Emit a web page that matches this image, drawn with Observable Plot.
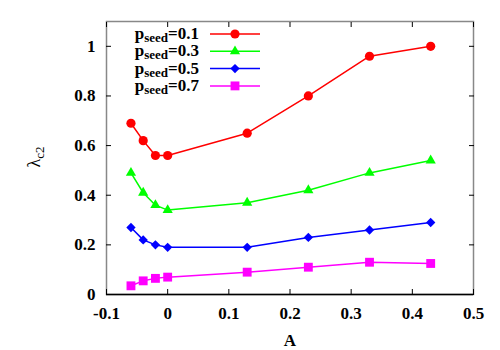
<!DOCTYPE html>
<html><head><meta charset="utf-8">
<script src="https://cdn.jsdelivr.net/npm/d3@7"></script>
<script src="https://cdn.jsdelivr.net/npm/@observablehq/plot@0.6"></script>
<style>body{margin:0;background:#fff}</style>
</head><body><div id="chart"></div>
<script>
const A = [-0.06, -0.04, -0.02, 0, 0.13, 0.23, 0.33, 0.43];
const seeds = ["0.1", "0.3", "0.5", "0.7"];
const lam01 = [0.69, 0.62, 0.56, 0.56, 0.65, 0.80, 0.96, 1.00];
const lam03 = [0.49, 0.41, 0.36, 0.34, 0.37, 0.42, 0.49, 0.54];
const lam05 = [0.27, 0.22, 0.20, 0.19, 0.19, 0.23, 0.26, 0.29];
const lam07 = [0.035, 0.055, 0.065, 0.07, 0.09, 0.11, 0.13, 0.125];
const series = [lam01, lam03, lam05, lam07];
const colors = ["#ff0000", "#00ff00", "#0000ff", "#ff00ff"];
const symbols = ["circle", "triangle", "diamond2", "square"];
const radii = [4.6, 3.8, 4.2, 5];
const xTicks = [-0.1, 0, 0.1, 0.2, 0.3, 0.4, 0.5];
const yTicks = [0, 0.2, 0.4, 0.6, 0.8, 1];

const rows = [];
series.forEach((vals, i) => vals.forEach((v, j) => rows.push({seed: seeds[i], A: A[j], lam: v, i})));

const font = "Liberation Serif, Times New Roman, serif";
const fmt = d => String(d);

const marks = [
  Plot.frame({stroke: "#888", strokeWidth: 1.5}),
  Plot.ruleY([0], {stroke: "#000", strokeWidth: 1.5}),
  Plot.axisX({ticks: xTicks, tickFormat: fmt, tickSize: 0, tickPadding: 12, fontSize: 17, fontWeight: "bold", label: null}),
  Plot.axisX({ticks: xTicks, tickSize: -5, tickFormat: () => "", label: null, anchor: "bottom"}),
  Plot.axisX({ticks: xTicks, tickSize: -5, tickFormat: () => "", label: null, anchor: "top"}),
  Plot.axisY({ticks: yTicks, tickFormat: fmt, tickSize: 0, tickPadding: 11, fontSize: 17, fontWeight: "bold", label: null}),
  Plot.axisY({ticks: yTicks, tickSize: -5, tickFormat: () => "", label: null, anchor: "left"}),
  Plot.axisY({ticks: yTicks, tickSize: -5, tickFormat: () => "", label: null, anchor: "right"}),
  Plot.text(["A"], {frameAnchor: "bottom", dy: 51, fontSize: 17, fontWeight: "bold", fontFamily: font})
];
series.forEach((vals, i) => {
  const d = rows.filter(r => r.i === i);
  marks.push(Plot.line(d, {x: "A", y: "lam", stroke: colors[i], strokeWidth: 1.5}));
  marks.push(Plot.dot(d, {x: "A", y: "lam", fill: colors[i], stroke: "none", symbol: () => symbols[i], r: radii[i]}));
});

const chart = Plot.plot({
  width: 500, height: 350,
  marginLeft: 106, marginRight: 27, marginTop: 21, marginBottom: 56,
  style: {fontFamily: font, background: "#fff", overflow: "visible"},
  x: {domain: [-0.1, 0.5]},
  y: {domain: [0, 1.1]},
  symbol: {domain: symbols, range: symbols},
  marks
});
document.getElementById("chart").appendChild(chart);

const svg = d3.select(chart);
// y-axis title
const yl = svg.append("text")
  .attr("transform", "translate(40,157) rotate(-90)")
  .attr("text-anchor", "middle")
  .attr("font-family", font).attr("font-size", 18).attr("fill", "#000");
yl.append("tspan").text("λ");
yl.append("tspan").attr("font-size", 13).attr("dy", 4).text("c2");

// legend
const symMap = {circle: d3.symbolCircle, triangle: d3.symbolTriangle, diamond2: d3.symbolDiamond2, square: d3.symbolSquare};
const lg = svg.append("g").attr("font-family", font).attr("font-weight", "bold");
seeds.forEach((s, i) => {
  const cy = 34 + i * 17.3;
  const t = lg.append("text").attr("x", 199).attr("y", cy + 5).attr("text-anchor", "end").attr("font-size", 17).attr("fill", "#000");
  t.append("tspan").text("p");
  t.append("tspan").attr("font-size", 13).attr("dy", 3).text("seed");
  t.append("tspan").attr("dy", -3).text("=" + s);
  lg.append("line").attr("x1", 210).attr("x2", 260).attr("y1", cy).attr("y2", cy).attr("stroke", colors[i]).attr("stroke-width", 1.5);
  lg.append("path").attr("transform", `translate(235,${cy})`).attr("fill", colors[i])
    .attr("d", d3.symbol(symMap[symbols[i]], Math.PI * radii[i] * radii[i])());
});
</script></body></html>
